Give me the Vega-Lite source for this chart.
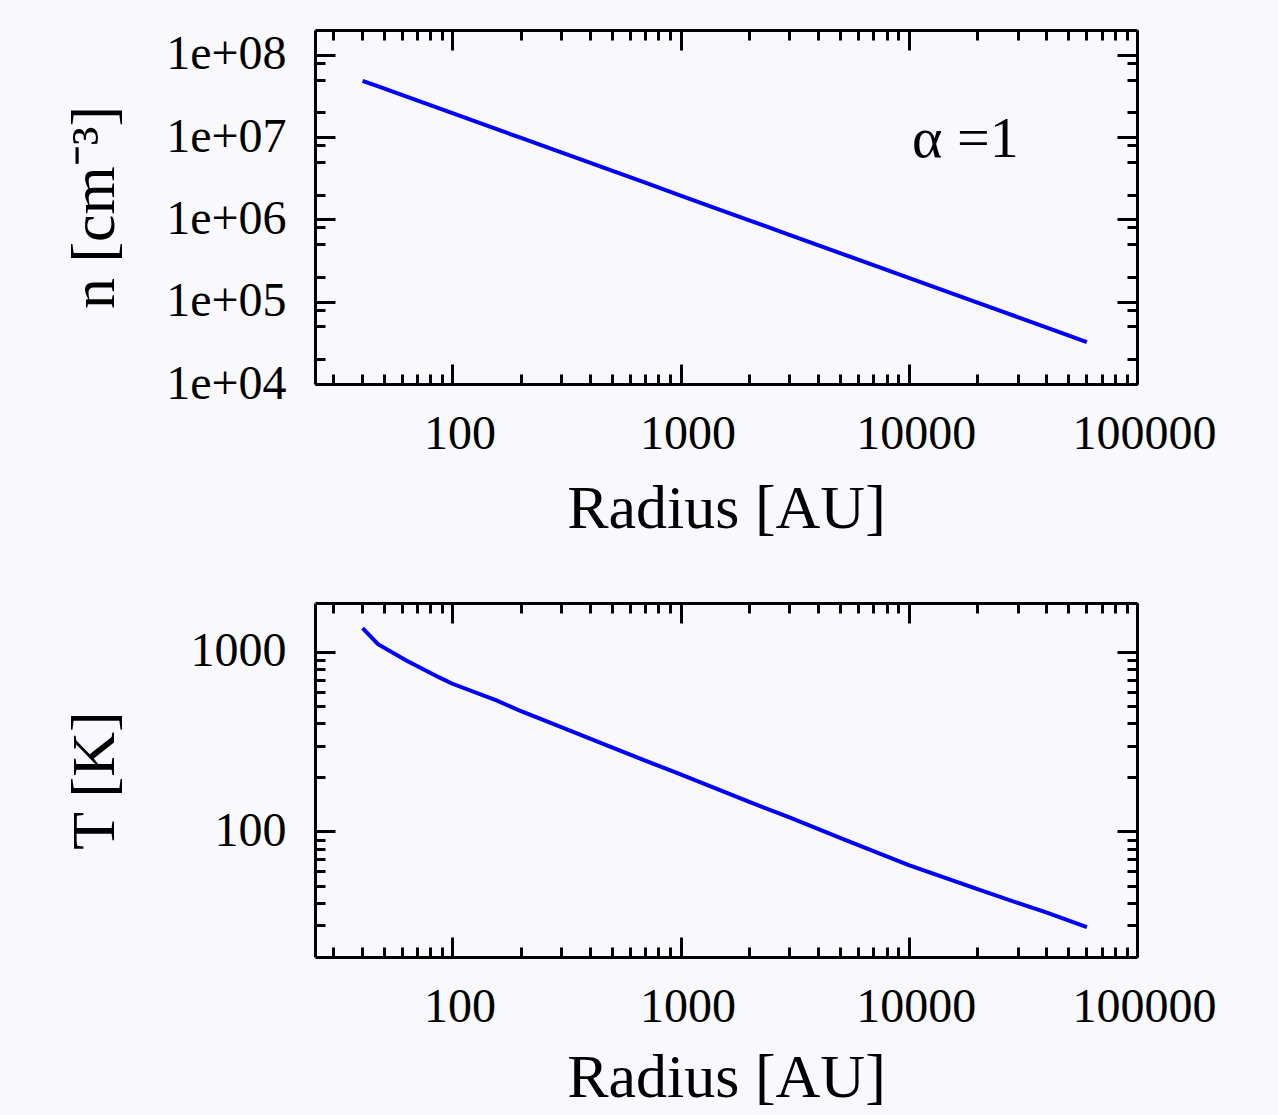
{
  "$schema": "https://vega.github.io/schema/vega-lite/v6.json",
  "background": "#f9f8fc",
  "padding": {"left": 63, "top": 28, "right": 70, "bottom": 10},
  "spacing": 62,
  "config": {
    "view": {"stroke": null},
    "font": "Liberation Serif",
    "axis": {
      "grid": false,
      "domainColor": "black",
      "domainWidth": 3,
      "tickColor": "black",
      "tickWidth": 3,
      "labelFont": "Liberation Serif",
      "labelFontSize": 48,
      "labelColor": "black",
      "labelFlush": false,
      "labelOverlap": false,
      "labelBound": false,
      "titleFont": "Liberation Serif",
      "titleFontSize": 62,
      "titleFontWeight": "normal",
      "titleColor": "black"
    }
  },
  "datasets": {
    "density": [
      {"r": 40.4, "n": 48300000},
      {"r": 47, "n": 41500000},
      {"r": 60, "n": 32500000},
      {"r": 80, "n": 24400000},
      {"r": 100, "n": 19500000},
      {"r": 150, "n": 13000000},
      {"r": 200, "n": 9750000},
      {"r": 300, "n": 6500000},
      {"r": 500, "n": 3900000},
      {"r": 700, "n": 2790000},
      {"r": 1000, "n": 1950000},
      {"r": 1500, "n": 1300000},
      {"r": 2000, "n": 975000},
      {"r": 3000, "n": 650000},
      {"r": 5000, "n": 390000},
      {"r": 7000, "n": 279000},
      {"r": 10000, "n": 195000},
      {"r": 15000, "n": 130000},
      {"r": 20000, "n": 97500},
      {"r": 30000, "n": 65000},
      {"r": 40000, "n": 48800},
      {"r": 60300, "n": 32300}
    ],
    "temperature": [
      {"r": 40.4, "T": 1355},
      {"r": 47.2, "T": 1104},
      {"r": 62.8, "T": 895},
      {"r": 88, "T": 718},
      {"r": 100, "T": 664},
      {"r": 156, "T": 536},
      {"r": 200, "T": 467},
      {"r": 300, "T": 381},
      {"r": 500, "T": 294},
      {"r": 700, "T": 248},
      {"r": 1000, "T": 208},
      {"r": 2000, "T": 146},
      {"r": 3000, "T": 119.6},
      {"r": 5000, "T": 92.2},
      {"r": 7000, "T": 77.8},
      {"r": 10000, "T": 65},
      {"r": 20000, "T": 47.7},
      {"r": 30000, "T": 40},
      {"r": 40000, "T": 35.4},
      {"r": 60300, "T": 29.3}
    ],
    "note": [
      {"r": 17700, "n": 5690000, "label": "α =1"}
    ]
  },
  "vconcat": [
    {
      "width": 822,
      "height": 354,
      "layer": [
        {
          "data": {"name": "density"},
          "mark": {"type": "line", "color": "#0000ff", "strokeWidth": 4},
          "encoding": {
            "x": {"field": "r", "type": "quantitative", "scale": {"type": "log", "domain": [25, 100000], "nice": false},
              "axis": {"orient": "bottom", "values": [100, 1000, 10000, 100000], "format": "d", "ticks": false, "labelPadding": 26, "labelOffset": 7, "title": "Radius [AU]", "titleY": 143, "titleBaseline": "alphabetic"}},
            "y": {"field": "n", "type": "quantitative", "scale": {"type": "log", "domain": [10000, 200000000], "nice": false},
              "axis": {"orient": "left", "values": [10000, 100000, 1000000, 10000000, 100000000], "labelExpr": "'1e+0' + round(log(datum.value)/LN10)", "ticks": false, "labelPadding": 29, "title": "n [cm⁻³]", "titleX": -202, "titleY": 177, "titleAngle": -90, "titleAlign": "center", "titleBaseline": "alphabetic"}}
          }
        },
        {
          "data": {"name": "density"},
          "mark": {"type": "line", "opacity": 0},
          "encoding": {
            "x": {"field": "r", "type": "quantitative", "scale": {"type": "log", "domain": [25, 100000], "nice": false}, "axis": {"orient": "bottom", "values": [100, 1000, 10000, 100000], "labels": false, "domain": false, "tickSize": -20, "title": null}},
            "y": {"field": "n", "type": "quantitative", "scale": {"type": "log", "domain": [10000, 200000000], "nice": false}, "axis": {"orient": "left", "values": [10000, 100000, 1000000, 10000000, 100000000], "labels": false, "domain": false, "tickSize": -20, "title": null}}
          }
        },
        {
          "data": {"name": "density"},
          "mark": {"type": "line", "opacity": 0},
          "encoding": {
            "x": {"field": "r", "type": "quantitative", "scale": {"type": "log", "domain": [25, 100000], "nice": false}, "axis": {"orient": "bottom", "values": [30, 40, 50, 60, 70, 80, 90, 200, 300, 400, 500, 600, 700, 800, 900, 2000, 3000, 4000, 5000, 6000, 7000, 8000, 9000, 20000, 30000, 40000, 50000, 60000, 70000, 80000, 90000], "labels": false, "domain": false, "tickSize": -10, "title": null}},
            "y": {"field": "n", "type": "quantitative", "scale": {"type": "log", "domain": [10000, 200000000], "nice": false}, "axis": {"orient": "left", "values": [20000, 50000, 80000, 200000, 500000, 800000, 2000000, 5000000, 8000000, 20000000, 50000000, 80000000], "labels": false, "domain": false, "tickSize": -10, "title": null}}
          }
        },
        {
          "data": {"name": "density"},
          "mark": {"type": "line", "opacity": 0},
          "encoding": {
            "x": {"field": "r", "type": "quantitative", "scale": {"type": "log", "domain": [25, 100000], "nice": false}, "axis": {"orient": "top", "values": [100, 1000, 10000, 100000], "labels": false, "tickSize": -20, "title": null}},
            "y": {"field": "n", "type": "quantitative", "scale": {"type": "log", "domain": [10000, 200000000], "nice": false}, "axis": {"orient": "right", "values": [10000, 100000, 1000000, 10000000, 100000000], "labels": false, "tickSize": -20, "title": null}}
          }
        },
        {
          "data": {"name": "density"},
          "mark": {"type": "line", "opacity": 0},
          "encoding": {
            "x": {"field": "r", "type": "quantitative", "scale": {"type": "log", "domain": [25, 100000], "nice": false}, "axis": {"orient": "top", "values": [30, 40, 50, 60, 70, 80, 90, 200, 300, 400, 500, 600, 700, 800, 900, 2000, 3000, 4000, 5000, 6000, 7000, 8000, 9000, 20000, 30000, 40000, 50000, 60000, 70000, 80000, 90000], "labels": false, "domain": false, "tickSize": -10, "title": null}},
            "y": {"field": "n", "type": "quantitative", "scale": {"type": "log", "domain": [10000, 200000000], "nice": false}, "axis": {"orient": "right", "values": [20000, 50000, 80000, 200000, 500000, 800000, 2000000, 5000000, 8000000, 20000000, 50000000, 80000000], "labels": false, "domain": false, "tickSize": -10, "title": null}}
          }
        },
        {
          "data": {"name": "note"},
          "mark": {"type": "text", "font": "Liberation Serif", "fontSize": 58, "color": "black", "align": "center", "baseline": "alphabetic"},
          "encoding": {
            "x": {"field": "r", "type": "quantitative", "scale": {"type": "log", "domain": [25, 100000], "nice": false}, "axis": null},
            "y": {"field": "n", "type": "quantitative", "scale": {"type": "log", "domain": [10000, 200000000], "nice": false}, "axis": null},
            "text": {"field": "label"}
          }
        }
      ],
      "resolve": {"axis": {"x": "independent", "y": "independent"}}
    },
    {
      "width": 822,
      "height": 354,
      "data": {"name": "temperature"},
      "layer": [
        {
          "mark": {"type": "line", "color": "#0000ff", "strokeWidth": 4},
          "encoding": {
            "x": {"field": "r", "type": "quantitative", "scale": {"type": "log", "domain": [25, 100000], "nice": false},
              "axis": {"orient": "bottom", "values": [100, 1000, 10000, 100000], "format": "d", "ticks": false, "labelPadding": 26, "labelOffset": 7, "title": "Radius [AU]", "titleY": 139, "titleBaseline": "alphabetic"}},
            "y": {"field": "T", "type": "quantitative", "scale": {"type": "log", "domain": [20, 1870], "nice": false},
              "axis": {"orient": "left", "values": [100, 1000], "format": "d", "ticks": false, "labelPadding": 29, "title": "T [K]", "titleX": -202, "titleY": 177, "titleAngle": -90, "titleAlign": "center", "titleBaseline": "alphabetic"}}
          }
        },
        {
          "mark": {"type": "line", "opacity": 0},
          "encoding": {
            "x": {"field": "r", "type": "quantitative", "scale": {"type": "log", "domain": [25, 100000], "nice": false}, "axis": {"orient": "bottom", "values": [100, 1000, 10000, 100000], "labels": false, "domain": false, "tickSize": -20, "title": null}},
            "y": {"field": "T", "type": "quantitative", "scale": {"type": "log", "domain": [20, 1870], "nice": false}, "axis": {"orient": "left", "values": [100, 1000], "labels": false, "domain": false, "tickSize": -20, "title": null}}
          }
        },
        {
          "mark": {"type": "line", "opacity": 0},
          "encoding": {
            "x": {"field": "r", "type": "quantitative", "scale": {"type": "log", "domain": [25, 100000], "nice": false}, "axis": {"orient": "bottom", "values": [30, 40, 50, 60, 70, 80, 90, 200, 300, 400, 500, 600, 700, 800, 900, 2000, 3000, 4000, 5000, 6000, 7000, 8000, 9000, 20000, 30000, 40000, 50000, 60000, 70000, 80000, 90000], "labels": false, "domain": false, "tickSize": -10, "title": null}},
            "y": {"field": "T", "type": "quantitative", "scale": {"type": "log", "domain": [20, 1870], "nice": false}, "axis": {"orient": "left", "values": [30, 40, 50, 60, 70, 80, 90, 200, 300, 400, 500, 600, 700, 800, 900], "labels": false, "domain": false, "tickSize": -10, "title": null}}
          }
        },
        {
          "mark": {"type": "line", "opacity": 0},
          "encoding": {
            "x": {"field": "r", "type": "quantitative", "scale": {"type": "log", "domain": [25, 100000], "nice": false}, "axis": {"orient": "top", "values": [100, 1000, 10000, 100000], "labels": false, "tickSize": -20, "title": null}},
            "y": {"field": "T", "type": "quantitative", "scale": {"type": "log", "domain": [20, 1870], "nice": false}, "axis": {"orient": "right", "values": [100, 1000], "labels": false, "tickSize": -20, "title": null}}
          }
        },
        {
          "mark": {"type": "line", "opacity": 0},
          "encoding": {
            "x": {"field": "r", "type": "quantitative", "scale": {"type": "log", "domain": [25, 100000], "nice": false}, "axis": {"orient": "top", "values": [30, 40, 50, 60, 70, 80, 90, 200, 300, 400, 500, 600, 700, 800, 900, 2000, 3000, 4000, 5000, 6000, 7000, 8000, 9000, 20000, 30000, 40000, 50000, 60000, 70000, 80000, 90000], "labels": false, "domain": false, "tickSize": -10, "title": null}},
            "y": {"field": "T", "type": "quantitative", "scale": {"type": "log", "domain": [20, 1870], "nice": false}, "axis": {"orient": "right", "values": [30, 40, 50, 60, 70, 80, 90, 200, 300, 400, 500, 600, 700, 800, 900], "labels": false, "domain": false, "tickSize": -10, "title": null}}
          }
        }
      ],
      "resolve": {"axis": {"x": "independent", "y": "independent"}}
    }
  ]
}
